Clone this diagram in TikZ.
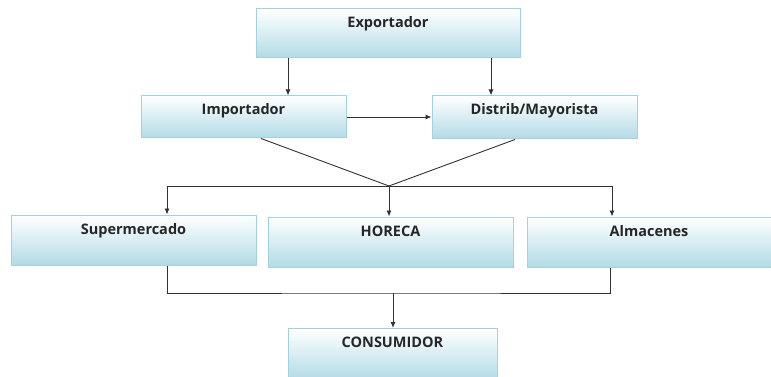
\documentclass[tikz,border=0pt]{standalone}
\usepackage{fontspec}
\setmainfont{Open Sans}
\usetikzlibrary{arrows.meta}

\definecolor{boxblue}{RGB}{178,219,230}
\definecolor{boxline}{RGB}{160,210,224}
\definecolor{wirecol}{RGB}{50,50,50}

\tikzset{
  box/.style={draw=boxline, line width=1pt, top color=white, bottom color=boxblue,
    inner sep=0pt, text height=19pt, text=black!85,
    font=\fontsize{14.5}{16}\selectfont\bfseries},
  wire/.style={draw=wirecol, line width=0.9pt},
  arr/.style={wire, -{Latex[length=6pt,width=5pt]}}
}

\begin{document}
\begin{tikzpicture}[x=1pt, y=-1pt]

\useasboundingbox (0,0) rectangle (771,377);

% Boxes
\node [box, minimum width=264pt, text depth=30pt] (exp) at (388,33.5) {Exportador};

\node [box, minimum width=205pt, text depth=23pt] (imp) at (243.5,117) {Importador};
\node [box, minimum width=205pt, text depth=24pt] (dis) at (534.5,117.5) {Distrib/Mayorista};

\node [box, minimum width=245pt, text depth=31pt] (sup) at (133.5,240) {Supermercado};
\node [box, minimum width=245pt, text depth=31pt] (hor) at (390.5,242) {HORECA};
\node [box, minimum width=244pt, text depth=31pt] (alm) at (649,242) {Almacenes};

\node [box, minimum width=209pt, text depth=32pt] (con) at (392.5,354) {CONSUMIDOR};

% Connectors
\draw [arr] (exp.south -| 288,0) -- (imp.north -| 288,0);
\draw [arr] (exp.south -| 491,0) -- (dis.north -| 491,0);
\draw [arr] (imp.east) -- (imp.east -| dis.west);

% merge and split
\coordinate (mix) at (389,186);
\draw [wire] (imp.south -| 261,0) -- (mix) -- (dis.south -| 515,0);
\draw [arr] (mix) -| (sup.north -| 167,0);
\draw [arr] (mix) -- (hor.north -| mix);
\draw [arr] (mix) -| (alm.north -| 612,0);

% to consumer
\coordinate (join) at (393,293);
\draw [wire] (sup.south -| 167,0) |- (join) -| (alm.south -| 610,0);
\draw [arr] (join) -- (con.north -| join);

\end{tikzpicture}
\end{document}
